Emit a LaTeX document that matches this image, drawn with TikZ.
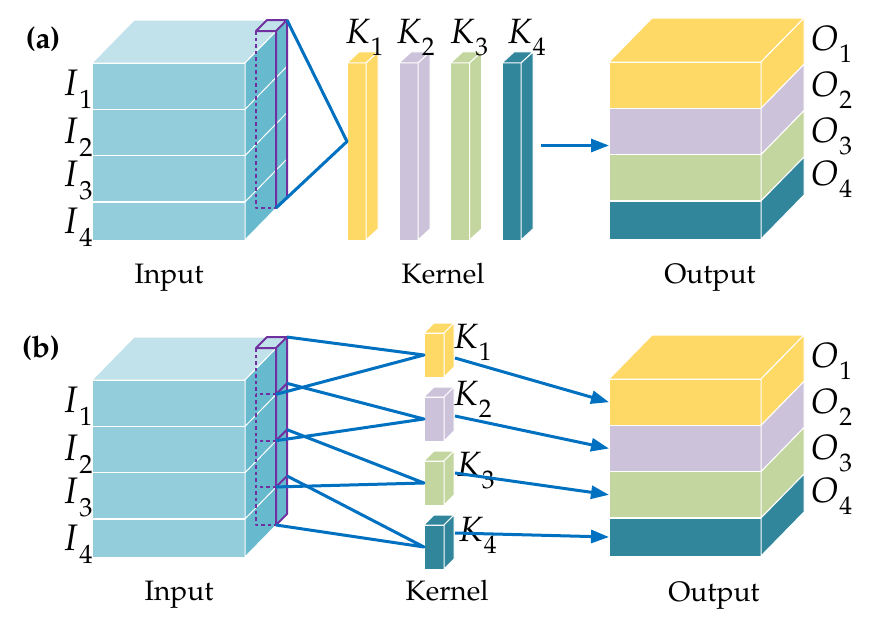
\documentclass[tikz,border=0pt]{standalone}
\usepackage[T1]{fontenc}
\usepackage{mathpazo}
\usetikzlibrary{arrows.meta,positioning,calc}
\definecolor{aquafront}{HTML}{93CDDB}
\definecolor{aquatop}{HTML}{C1E2EA}
\definecolor{aquaside}{HTML}{67B9CE}
\definecolor{gold}{HTML}{FFD966}
\definecolor{lilac}{HTML}{CCC3DB}
\definecolor{olive}{HTML}{C4D69F}
\definecolor{deepteal}{HTML}{31869B}
\definecolor{linkblue}{HTML}{0070C0}
\definecolor{colpurple}{HTML}{7030A0}
% letter with a large, low index: letter, index, index size, drop
\newcommand{\symsub}[4]{$#1$\kern0.4pt\raisebox{-#4}{\fontsize{#3}{#3}\selectfont#2}}

\begin{document}
\begin{tikzpicture}[x=0.2mm,y=-0.2mm,
  font=\fontsize{16}{19}\selectfont,
  layer/.style={draw=white,line width=0.2mm,inner sep=0pt,outer sep=0pt,minimum width=30.6mm},
  face/.style={draw=white,line width=0.2mm,line join=round},
  kern/.style={draw=white,line width=0.2mm,inner sep=0pt,outer sep=0pt,minimum width=3.8mm,minimum height=35.4mm},
  cubelet/.style={draw=white,line width=0.2mm,inner sep=0pt,outer sep=0pt,minimum width=4mm,minimum height=8.8mm},
  ilab/.style={inner sep=0pt,font=\fontsize{21}{25}\selectfont},
  klab/.style={inner sep=0pt,font=\fontsize{20}{24}\selectfont},
  olab/.style={inner sep=0pt,font=\fontsize{20}{24}\selectfont},
  tag/.style={inner sep=0pt,font=\fontsize{17}{20}\selectfont\bfseries},
  caption/.style={inner sep=0pt,anchor=base},
  col/.style={draw=colpurple,line width=0.4mm,line join=round},
  hid/.style={col,dash pattern=on 0.7mm off 0.6mm},
  link/.style={draw=linkblue,line width=0.6mm,line join=round},
  arr/.style={link,-{Triangle[length=3.6mm,width=2.6mm]}}]

\useasboundingbox (0,0) rectangle (873,623);

% input and output cubes of both panels
\foreach \p/\dy in {a/0,b/317}{
  \foreach \i/\y/\h/\c in {1/86.2/9.26mm/gold,2/132.5/9.26mm/lilac,3/178.8/9.26mm/olive,4/221/7.6mm/deepteal}{
    \node[layer,fill=aquafront,minimum height=\h] (in\p\i) at (168.5,\y+\dy) {};
    \node[layer,fill=\c,minimum height=\h,minimum width=30.4mm] (out\p\i) at (685,\y+\dy-1) {};
  }
  \filldraw[face,fill=aquatop] (in\p1.north west) -- ++(42,-43) -- ++(153,0) -- (in\p1.north east) -- cycle;
  \filldraw[face,fill=aquaside] (in\p1.north east) -- ++(42,-43) -- ($(in\p4.south east)+(42,-43)$) -- (in\p4.south east) -- cycle;
  \foreach \i in {1,2,3}
    \draw[face] (in\p\i.south east) -- ++(42,-43);
  \filldraw[face,fill=gold] (out\p1.north west) -- ++(43,-44) -- ++(152,0) -- (out\p1.north east) -- cycle;
  \foreach \i/\c/\d in {1/gold/9,2/lilac/11,3/olive/8,4/deepteal/12}{
    \filldraw[face,fill=\c] (out\p\i.north east) -- ++(43,-44) -- ($(out\p\i.south east)+(43,-44)$) -- (out\p\i.south east) -- cycle;
    \node[ilab,anchor=base east] (i\p\i) at ([shift={(1,\d)}]in\p\i.west) {\symsub{I}{\i}{15pt}{2.6mm}};
    \node[olab,anchor=base west] (o\p\i) at ([shift={(50,-35)}]out\p\i.east) {\symsub{O}{\i}{14.5pt}{2.4mm}};
  }
}

% (a) one column over the whole depth
\coordinate (ca1) at ([shift={(11,-32)}]ina1.north east);
\coordinate (ca2) at ([shift={(31,-32)}]ina1.north east);
\coordinate (ca3) at ([shift={(31,-32)}]ina4.south east);
\coordinate (ca4) at ([shift={(11,-32)}]ina4.south east);
\coordinate (cabk) at ([shift={(11,-11)}]ca2);
\draw[col] (ca1) -- ++(11,-11) -- (cabk) -- (ca2) -- cycle;
\draw[col] (ca2) -- (ca3) -- ++(11,-11) -- (cabk);
\draw[hid] (ca1) -- (ca4) -- (ca3);

\foreach \i/\c/\x/\s in {1/gold/356.5/8,2/lilac/408.5/7,3/olive/460/9,4/deepteal/511.5/15}{
  \node[kern,fill=\c] (ka\i) at (\x,151.5) {};
  \filldraw[face,fill=\c] (ka\i.north west) -- ++(12,-11) -- ++(19,0) -- (ka\i.north east) -- cycle;
  \filldraw[face,fill=\c] (ka\i.north east) -- ++(12,-11) -- ($(ka\i.south east)+(12,-11)$) -- (ka\i.south east) -- cycle;
  \node[klab,anchor=base] (lka\i) at ([shift={(\s,-19)}]ka\i.north) {\symsub{K}{\i}{14.5pt}{2.4mm}};
}
\coordinate (apex) at ([yshift=2mm]ka1.west);
\draw[link] (cabk) -- (apex) -- (ca3);
\coordinate (astart) at ([shift={(20,-6)}]ka4.east);
\draw[arr] (astart) -- (astart -| outa2.west);

% (b) column split per input channel
\coordinate (cb1) at ([shift={(11,-32)}]inb1.north east);
\coordinate (cb2) at ([shift={(31,-32)}]inb1.north east);
\coordinate (cb3) at ([shift={(31,-32)}]inb4.south east);
\coordinate (cb4) at ([shift={(11,-32)}]inb4.south east);
\foreach \i in {1,2,3}
  \coordinate (sb\i) at ([shift={(31,-32)}]inb\i.south east);
\draw[col] (cb1) -- ++(11,-11) -- ([shift={(11,-11)}]cb2) -- (cb2) -- cycle;
\draw[col] (cb2) -- (cb3) -- ++(11,-11) -- ([shift={(11,-11)}]cb2);
\foreach \i in {1,2,3}{
  \draw[col] (sb\i) -- ++(11,-11);
  \draw[hid] (sb\i) -- ++(-20,0);
}
\draw[hid] (cb1) -- (cb4) -- (cb3);

\foreach \i/\c/\y/\s/\lx/\ly in {1/gold/355/3/9/-7,2/lilac/419/-3/9/-14,3/olive/483/-10/12/-7,4/deepteal/547/-14/14/-6}{
  \node[cubelet,fill=\c] (kb\i) at (434,\y) {};
  \filldraw[face,fill=\c] (kb\i.north west) -- ++(10,-10) -- ++(20,0) -- (kb\i.north east) -- cycle;
  \filldraw[face,fill=\c] (kb\i.north east) -- ++(10,-10) -- ($(kb\i.south east)+(10,-10)$) -- (kb\i.south east) -- cycle;
  \node[klab,anchor=base west] (lkb\i) at ([shift={(\lx,\ly)}]kb\i.east) {\symsub{K}{\i}{14.5pt}{2.4mm}};
  \draw[arr] ([shift={(11,\s)}]kb\i.east) -- (outb\i.west);
}
\foreach \i/\t/\b in {1/cb2/sb1,2/sb1/sb2,3/sb2/sb3,4/sb3/cb3}
  \draw[link] ([shift={(11,-11)}]\t) -- (kb\i.west) -- (\b);

% panel tags and captions
\node[tag] (taga) at (43,39) {(a)};
\node[tag] (tagb) at (41,348) {(b)};
\node[caption] (capia) at (169,283) {Input};
\node[caption] (capka) at (443,283) {Kernel};
\node[caption] (capoa) at (710,283) {Output};
\node[caption] (capib) at (179,600) {Input};
\node[caption] (capkb) at (447,600) {Kernel};
\node[caption] (capob) at (714,601) {Output};
\end{tikzpicture}
\end{document}
